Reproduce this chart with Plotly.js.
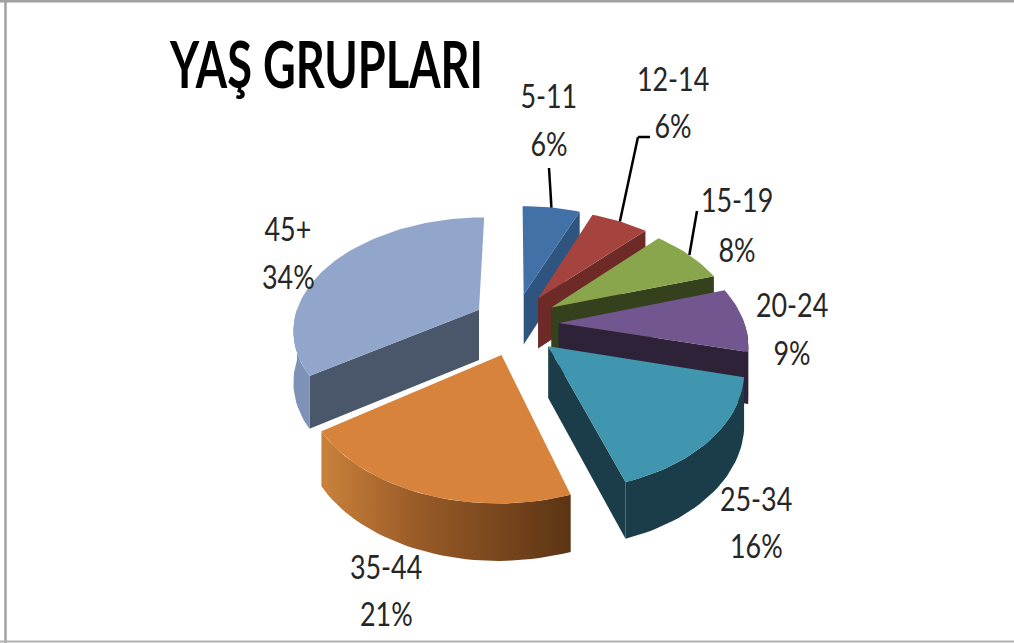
<!DOCTYPE html>
<html><head><meta charset="utf-8">
<script src="https://cdn.plot.ly/plotly-3.0.1.min.js"></script>
<style>html,body{margin:0;padding:0;background:#fff}#c{width:1014px;height:643px}</style>
</head><body><div id="c"></div>
<script>
// data
const categories = ["5-11","12-14","15-19","20-24","25-34","35-44","45+"];
const shares = [6,6,8,9,16,20.51,34.49];
const percentLabels = ["6%","6%","8%","9%","16%","21%","34%"];
const chartTitle = "YAŞ GRUPLARI";

// styles
const topColors  = ["#4271a8","#a5443f","#8aa64c","#71568f","#3f96ae","#d8833c","#92a6cc"];
const sideColors = ["#2f5480","#6e2a27","#35401c","#2e2238","#1a3d49","#5a3314","#4a566a"];
const rimColors  = ["#2f5480","#6e2a27","#35401c","#2e2238","#1a3d49","#5a3314","#7e92b8"];
const drawOrder = [0,1,2,6,3,4,5];
const labelPos = [[549,95,143],[673,78,125],[737,199,249],[792,304,352],[756,498,545],[386,566,613],[288,228,276]];
const leaders = {0:[[549,168]],1:[[650,137],[638,137]],2:[[697,211]]};

// projection of a tilted, exploded pie (perspective)
const cx=516, cy=324, rx=186, ry=112, persp=6, explodeX=0.23, explodeZ=0.28, depth=51;
function project(X,Z,h){
  const s=persp/(persp+Z);
  return [cx+s*X*rx, cy-s*Z*ry+h*depth*Math.sqrt(s)];
}
const rad=a=>a*Math.PI/180;
function point(ang,r,mid,h){
  return project(explodeX*Math.sin(rad(mid))+r*Math.sin(rad(ang)),
                 explodeZ*Math.cos(rad(mid))+r*Math.cos(rad(ang)),h);
}
function arc(a0,a1,mid,h){
  const pts=[],n=Math.max(2,Math.ceil(Math.abs(a1-a0)/2));
  for(let i=0;i<=n;i++) pts.push(point(a0+(a1-a0)*i/n,1,mid,h));
  return pts;
}
function face(pts,color,name,extra){
  return Object.assign({type:"scatter",mode:"lines",x:pts.map(p=>p[0]),y:pts.map(p=>p[1]),
    fill:"toself",fillcolor:color,line:{width:0,color:color},name:name,showlegend:false,hoverinfo:"name"},extra||{});
}

const total=shares.reduce((a,b)=>a+b,0);
const starts=[];let acc=0;
shares.forEach(v=>{starts.push(acc/total*360);acc+=v;});

const traces=[];
drawOrder.forEach(i=>{
  const a0=starts[i],a1=a0+shares[i]/total*360,mid=(a0+a1)/2,name=categories[i];
  const apex=point(0,0,mid,0),apexB=point(0,0,mid,1);
  const endFacing=a1<=180, startFacing=a0>=180;
  if(endFacing) traces.push(face([apex,point(a1,1,mid,0),point(a1,1,mid,1),apexB],sideColors[i],name));
  if(startFacing&&i===6) traces.push(face([apex,point(a0,1,mid,0),point(a0,1,mid,1),apexB],sideColors[i],name));
  const f0=Math.max(a0,90),f1=Math.min(a1,270);
  if(f1>f0){
    const pts=arc(f0,f1,mid,0).concat(arc(f1,f0,mid,1));
    const extra=i===5?{fillgradient:{type:"horizontal",colorscale:[[0,"#c8803a"],[0.35,"#9a5c28"],[1,"#5a3314"]],start:326,stop:576}}:{};
    traces.push(face(pts,rimColors[i],name,extra));
  }
  traces.push(face([apex].concat(arc(a0,a1,mid,0)),topColors[i],name+" "+percentLabels[i]));
});

const textFont={family:"Lato, 'Open Sans', sans-serif",size:32,color:"#262626"};
const annotations=[];
categories.forEach((c,i)=>{
  [c,percentLabels[i]].forEach((t,j)=>annotations.push({x:labelPos[i][0],y:labelPos[i][j+1],xref:"x",yref:"y",
    text:t,showarrow:false,xanchor:"center",yanchor:"middle",font:textFont}));
});

const lineStyle={color:"#000",width:2.5};
const shapes=[
  {type:"line",xref:"x",yref:"y",x0:0,x1:1014,y0:1,y1:1,line:{color:"#a0a0a0",width:3}},
  {type:"line",xref:"x",yref:"y",x0:5.5,x1:5.5,y0:0,y1:643,line:{color:"#a0a0a0",width:2.5}},
  {type:"line",xref:"x",yref:"y",x0:0,x1:1014,y0:641.5,y1:641.5,line:{color:"#b0b0b0",width:2}}
];
Object.keys(leaders).forEach(k=>{
  const i=+k,a0=starts[i],a1=a0+shares[i]/total*360,mid=(a0+a1)/2;
  const pts=leaders[k].concat([point(mid,1,mid,0)]);
  for(let j=0;j<pts.length-1;j++) shapes.push({type:"line",xref:"x",yref:"y",
    x0:pts[j][0],y0:pts[j][1],x1:pts[j+1][0],y1:pts[j+1][1],line:lineStyle});
});

const gd=document.getElementById("c");
Plotly.newPlot(gd,traces,{
  width:1014,height:643,margin:{l:0,r:0,t:0,b:0},
  paper_bgcolor:"#fff",plot_bgcolor:"#fff",showlegend:false,
  title:{text:chartTitle,x:170/1014,xanchor:"left",y:1-65/643,yanchor:"middle",
    font:{family:"Lato, 'Open Sans', sans-serif",size:65,color:"#000",weight:700}},
  xaxis:{range:[0,1014],visible:false,fixedrange:true},
  yaxis:{range:[643,0],visible:false,fixedrange:true},
  annotations:annotations,shapes:shapes
},{displayModeBar:false,staticPlot:true}).then(()=>{
  // the reference's type is condensed: narrow the real text nodes
  const t=gd.querySelector(".gtitle");
  if(t){
    const f=313/t.getComputedTextLength();
    t.setAttribute("transform","translate(170,0) scale("+f+",1) translate(-170,0)");
  }
  gd.querySelectorAll(".annotation-text").forEach(el=>{
    el.setAttribute("textLength",el.getComputedTextLength()*0.84);
    el.setAttribute("lengthAdjust","spacingAndGlyphs");
  });
});
</script></body></html>
